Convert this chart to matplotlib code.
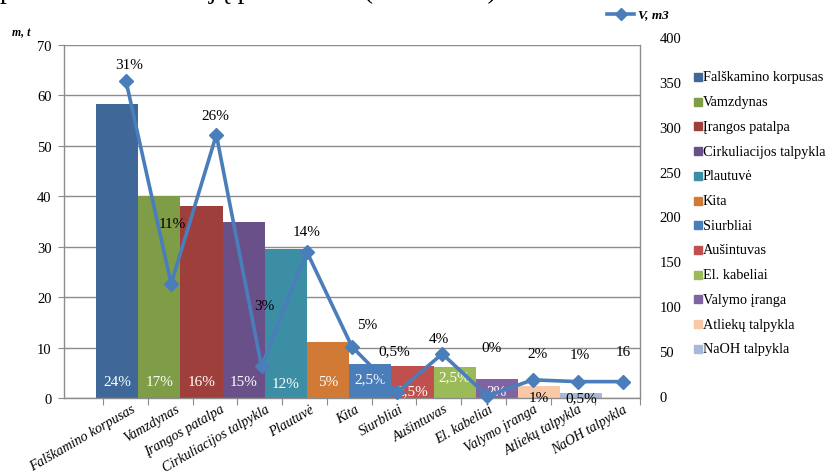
import numpy as np
import matplotlib
matplotlib.use("Agg")
import matplotlib.pyplot as plt
from matplotlib.patches import Rectangle
from matplotlib.lines import Line2D

# ---------------- data ----------------
categories = ["Falškamino korpusas", "Vamzdynas", "Įrangos patalpa",
              "Cirkuliacijos talpykla", "Plautuvė", "Kita", "Siurbliai",
              "Aušintuvas", "El. kabeliai", "Valymo įranga",
              "Atliekų talpykla", "NaOH talpykla"]
mass_t = [58.3, 40.0, 38.0, 35.0, 29.5, 11.1, 6.8, 6.3, 6.1, 3.8, 2.4, 1.0]
mass_labels = ["24%", "17%", "16%", "15%", "12%", "5%", "2,5%", "2,5%",
               "2,5%", "2%", "1%", "0,5%"]
volume_m3 = [351, 125, 291, 33, 161, 55, 4, 47, 0, 18, 16, 16]
volume_labels = ["31%", "11%", "26%", "3%", "14%", "5%", "0,5%", "4%",
                 "0%", "2%", "1%", "16"]
left_ticks = [0, 10, 20, 30, 40, 50, 60, 70]
right_ticks = [0, 50, 100, 150, 200, 250, 300, 350, 400]

# ---------------- style ----------------
bar_colors = ["#3F6899", "#7F9C46", "#9F3F3C", "#6A5088", "#3B8EA3",
              "#D07A35", "#4A7EBB", "#C0504D", "#9BBB59", "#8064A2",
              "#F9C9A7", "#A7B9DB"]
line_color = "#4A7EBB"
grid_color = "#8C8C8C"
SERIF = ["Liberation Serif", "DejaVu Serif"]
# label y (pixels from top of figure) for bar labels, styling only
bar_label_px = [383, 383, 383, 383, 384, 383, 380, 392, 378, 393, 398, 399]
bar_label_col = ["white"] * 10 + ["black", "black"]
# offsets (pixels) of line labels relative to the markers
vol_lab_off = [(3, 16), (1, 60), (-1, 19), (3, 61), (0, 20), (15, 22),
               (-3, 42), (-3, 15), (4, 48), (5, 26), (2, 27), (0, 30)]

W, H = 832, 477
fig = plt.figure(figsize=(W / 100, H / 100), dpi=100)


def box(l, t, r, b):
    return [l / W, 1 - b / H, (r - l) / W, (b - t) / H]


n = len(categories)
xlim = (-1.372, 11.377)
bar_w = 0.943
bar_x = 5.0 + (np.arange(n) - (n - 1) / 2) * bar_w
cat_x = np.arange(n)

# ---- primary axes (mass) ----
ax = fig.add_axes(box(64, 46, 640, 399))
ax.set_xlim(*xlim)
ax.set_ylim(0, 70)
ax.bar(bar_x, mass_t, width=bar_w, color=bar_colors, zorder=2,
       edgecolor="none")
ax.set_yticks(left_ticks)
ax.set_yticklabels([str(v) for v in left_ticks], family=SERIF, fontsize=10.5)
ax.yaxis.grid(True, color=grid_color, lw=1.0, zorder=0)
ax.set_axisbelow(True)
for s in ["left", "bottom", "right"]:
    ax.spines[s].set_color(grid_color)
    ax.spines[s].set_linewidth(1.0)
ax.spines["top"].set_visible(False)
ax.tick_params(axis="y", length=4, color=grid_color, pad=5)
ax.set_xticks(np.arange(-0.5, n, 1.0))
ax.set_xticklabels([])
ax.tick_params(axis="x", which="major", length=5, color=grid_color)
ax.set_xticks(cat_x + 0.12, minor=True)
ax.set_xticklabels(categories, minor=True, rotation=30, ha="right",
                   rotation_mode="anchor", family=SERIF, style="italic",
                   fontsize=10)
ax.tick_params(axis="x", which="minor", length=0, pad=3)

# bar percent labels
for i in range(n):
    yd = (399 - bar_label_px[i]) / 353 * 70
    ax.text(bar_x[i], yd, mass_labels[i], ha="center", va="center",
            color=bar_label_col[i], family=SERIF, fontsize=11, zorder=3)

# ---- secondary axes (volume line) ----
ax2 = fig.add_axes(box(64, 38, 640, 397))
ax2.patch.set_visible(False)
for s in ax2.spines.values():
    s.set_visible(False)
ax2.set_xlim(*xlim)
ax2.set_ylim(0, 400)
ax2.set_xticks([])
ax2.yaxis.tick_right()
ax2.set_yticks(right_ticks)
ax2.set_yticklabels([str(v) for v in right_ticks], family=SERIF,
                    fontsize=10.5)
ax2.tick_params(axis="y", length=0, pad=14)
ax2.plot(cat_x, volume_m3, color=line_color, lw=2.6, marker="D",
         markersize=7, clip_on=False, zorder=4)
for i in range(n):
    ax2.annotate(volume_labels[i], (cat_x[i], volume_m3[i]),
                 xytext=vol_lab_off[i], textcoords="offset pixels",
                 ha="center", va="center", family=SERIF, fontsize=11,
                 color="black", zorder=5)

# ---- manual legend on the right ----
for i, name in enumerate(categories):
    yc = 78 + i * 24.7
    fig.patches.append(Rectangle((694 / W, 1 - (yc + 4) / H), 8 / W, 8 / H,
                                 transform=fig.transFigure,
                                 color=bar_colors[i], figure=fig))
    fig.text(703 / W, 1 - yc / H, name, ha="left", va="center",
             family=SERIF, fontsize=10.3)

# line legend at top
fig.add_artist(Line2D([607 / W, 634 / W], [1 - 15 / H, 1 - 15 / H],
                      transform=fig.transFigure, color=line_color, lw=2.6))
fig.add_artist(Line2D([620.5 / W], [1 - 15 / H], transform=fig.transFigure,
                      color=line_color, marker="D", markersize=6, lw=0))
fig.text(638 / W, 1 - 15 / H, "V, m3", ha="left", va="center",
         family=SERIF, fontsize=9.5, style="italic", weight="bold")

# axis title
fig.text(12 / W, 1 - 33 / H, "m, t", ha="left", va="center",
         family=SERIF, fontsize=8.5, style="italic", weight="bold")

# clipped line of document text at the very top
fig.text(0 / W, 1 + 1.5 / H, "pavaizduotas sekcijų parametrai (m ir V m3).",
         ha="left", va="baseline", family=SERIF, fontsize=20)

fig.savefig("out.png", dpi=100)
